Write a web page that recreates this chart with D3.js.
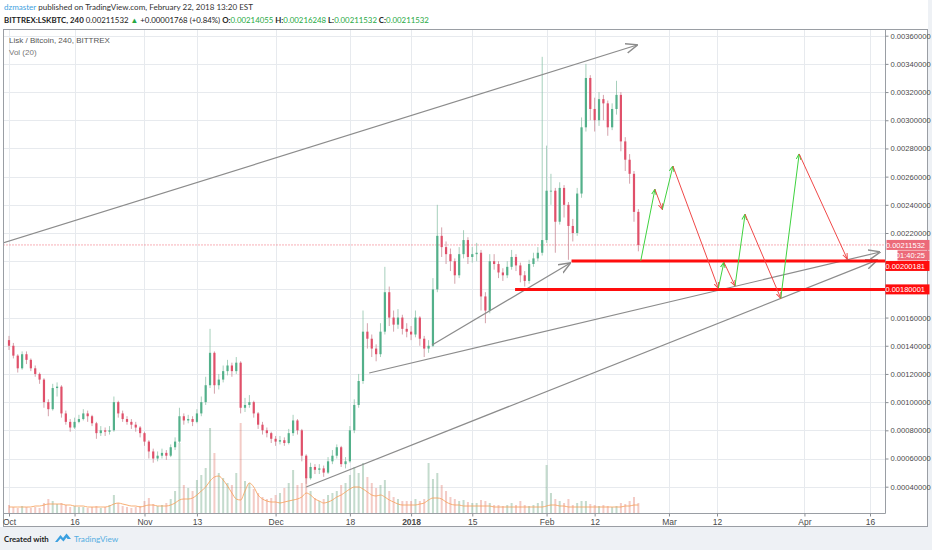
<!DOCTYPE html>
<html>
<head>
<meta charset="utf-8">
<script src="https://cdn.jsdelivr.net/npm/d3@7"></script>
<style>
  body { margin: 0; background: #eef1f5; }
  svg { display: block; font-family: "Liberation Sans", Arial, sans-serif; }
</style>
</head>
<body>
<svg width="932" height="550"></svg>
<script>
// daily candles LSK/BTC from 2017-10-01, prices in 1e-5 BTC
const firstDay = '2017-10-01T00:00Z';
const firstOpenE5 = 144;
const closeE5 = [140,133,124,134,130,124,120,116,100,95, 110,111,92,86,82,86,88,92,90,85,
  78,80,79,80,100,92,88,86,84,82, 78,72,65,60,62,64,62,68,72,90,
  87,88,86,92,100,112,135,112,116,122, 126,122,128,96,98,100,92,84,80,78,
  74,72,73,71,78,87,80,62,46,54, 52,53,50,58,62,68,56,58,80,98,
  115,150,145,138,134,150,178,160,155,160, 152,150,148,160,145,138,140,180,218,210,
  205,200,190,205,215,203,205,206,175,165, 200,198,192,190,196,203,197,190,186,198,
  202,206,215,250,250,228,252,240,225,220, 248,295,330,308,300,315,312,295,308,318,
  285,272,262,235,211.532];
const highE5 = [147,142,134,136,136,131,126,121,117,102, 113,114,112,94,88,89,91,95,94,91,
  86,83,82,83,104,101,94,90,88,86, 83,79,73,67,65,67,66,70,75,96,
  92,91,90,95,104,118,152,136,120,126, 130,128,132,129,103,105,101,93,86,82,
  79,76,76,75,81,91,88,81,63,57, 56,56,55,61,66,70,69,61,83,102,
  120,165,156,148,141,156,196,182,165,166, 162,156,154,165,161,147,144,188,240,224,
  214,209,202,210,222,217,210,213,208,178, 205,205,200,195,200,208,205,199,193,201,
  206,210,345,282,262,252,256,254,242,230, 252,302,340,332,316,320,318,314,312,328,
  320,288,276,264,237];
const lowE5 = [137,131,121,123,127,122,118,113,96,90, 94,104,89,84,79,81,85,87,86,83,
  74,76,76,77,79,89,86,84,81,79, 75,69,60,57,58,60,59,61,66,71,
  84,85,83,85,90,98,110,106,109,114, 119,118,120,92,93,96,89,81,77,75,
  71,69,70,69,70,76,77,58,42,45, 49,49,47,49,56,60,54,53,57,78,
  96,113,138,132,129,132,148,154,150,152, 148,146,144,146,140,132,135,139,178,203,
  198,193,184,188,202,198,199,200,165,156, 163,194,188,186,188,194,193,185,182,184,
  196,200,204,213,240,206,226,231,201,214, 218,245,292,300,292,296,300,289,293,304,
  278,264,255,228,207];
// volume and its 20-bar average, in volume-pane units
const volume = [8,6,5,7,6,5,6,5,10,14, 12,9,10,8,6,7,6,6,5,6,
  7,5,6,8,18,10,7,6,5,6, 7,12,15,9,7,8,10,14,22,70,
  28,25,22,33,38,45,85,60,40,35, 30,28,40,90,32,30,24,20,16,14,
  15,18,20,25,30,43,28,30,36,22, 15,12,14,18,20,22,28,30,38,46,
  40,50,36,30,25,28,33,22,16,14, 12,12,12,14,12,14,50,34,40,28,
  22,16,14,12,13,11,10,10,13,12, 10,8,8,7,8,10,8,12,8,7,
  8,10,12,48,20,14,12,10,14,8, 10,12,12,9,8,7,8,7,6,7,
  10,9,12,16,10];
const volumeMA = [6,6,6,6,6,6,7,7,8,9, 9,9,9,8,8,7,7,7,6,6,
  6,6,6,7,9,10,9,8,7,7, 6,7,8,8,7,7,7,8,10,13,
  14,14,15,18,22,26,32,36,37,33, 27,20,14,13,22,30,26,18,14,12,
  11,11,10,11,12,13,14,16,20,18, 14,12,10,11,13,16,18,21,24,26,
  26,24,21,18,17,18,16,13,11,9, 8,8,8,8,9,10,13,15,15,14,
  11,9,8,8,7,7,7,7,7,7, 7,6,6,6,6,6,6,6,6,6,
  6,6,6,7,8,8,7,7,6,6, 6,6,6,6,6,6,6,6,6,6,
  6,7,7,8,8];

const priceTicks = [0.0004,0.0006,0.0008,0.0010,0.0012,0.0014,0.0016,0.0018,0.0020,
  0.0022,0.0024,0.0026,0.0028,0.0030,0.0032,0.0034,0.0036];
const shownPriceTicks = priceTicks.filter(p => p !== 0.0018 && p !== 0.0020); // hidden under badges
const dateTicks = ['2017-10-01','2017-10-16','2017-11-01','2017-11-13','2017-12-01','2017-12-18',
  '2018-01-01','2018-01-15','2018-02-01','2018-02-12','2018-03-01','2018-03-12','2018-04-01','2018-04-16'];
const dateLabels = ['Oct','16','Nov','13','Dec','18','2018','15','Feb','12','Mar','12','Apr','16'];

// drawings (date, price in 1e-5 BTC)
const trendLines = [
  [['2017-09-25T00:00Z', 208.4], ['2018-02-21T17:00Z', 353.4]],
  [['2017-12-22T10:00Z', 120.7], ['2018-04-18T07:00Z', 206.5]],
  [['2017-12-08T00:00Z', 39.8], ['2018-04-17T15:00Z', 200.8]],
  [['2018-01-05T19:00Z', 140.5], ['2018-02-06T10:00Z', 198.7]]
];
const levels = [['2018-02-06T17:00Z', 200.181], ['2018-01-24T19:00Z', 180.001]];
const zigzag = [
  ['2018-02-22T13:00Z', 200.2], ['2018-02-25T19:00Z', 251.0], ['2018-02-27T12:00Z', 236.8],
  ['2018-03-01T22:00Z', 267.5], ['2018-03-12T07:00Z', 180.8], ['2018-03-13T14:00Z', 199.2],
  ['2018-03-16T03:00Z', 182.6], ['2018-03-18T10:00Z', 233.3], ['2018-03-26T14:00Z', 173.7],
  ['2018-03-30T19:00Z', 276.1], ['2018-04-10T19:00Z', 201.6]
];

const svg = d3.select('svg');
const plot = { left: 3.5, top: 29.5, right: 885.5, bottom: 513.5 };
const outerRight = 927.5, outerBottom = 526.5;

const x = d3.scaleUtc()
  .domain([new Date('2017-10-01T00:00Z'), new Date('2018-04-16T00:00Z')])
  .range([9, 870]);
const y = d3.scaleLinear().domain([0.0004, 0.0036]).range([486.7, 35.7]);
const yVol = d3.scaleLinear().domain([0, 100]).range([513, 413]);

const day0 = new Date(firstDay);
const candles = closeE5.map((c, i) => ({
  date: d3.utcDay.offset(day0, i),
  open: (i ? closeE5[i - 1] : firstOpenE5) / 1e5,
  high: highE5[i] / 1e5,
  low: lowE5[i] / 1e5,
  close: c / 1e5,
  vol: volume[i],
  ma: volumeMA[i]
}));
const pt = p => [x(new Date(p[0])), y(p[1] / 1e5)];

// background
svg.append('rect').attr('width', 928).attr('height', 527).attr('fill', '#fff');

const defs = svg.append('defs');
defs.append('clipPath').attr('id', 'clip')
  .append('rect').attr('x', 4).attr('y', 30).attr('width', 881).attr('height', 483);
function marker(id, color, size, sw) {
  defs.append('marker').attr('id', id)
    .attr('viewBox', '0 0 10 10').attr('refX', 9.5).attr('refY', 5)
    .attr('markerWidth', size).attr('markerHeight', size)
    .attr('markerUnits', 'userSpaceOnUse').attr('orient', 'auto')
    .append('path').attr('d', 'M0,1 L10,5 L0,9')
    .attr('fill', 'none').attr('stroke', color).attr('stroke-width', sw);
}
marker('arrGray', '#8c8c8c', 12, 1.2);
marker('arrGreen', '#3fd23f', 6, 1.6);
marker('arrRed', '#f04848', 6, 1.6);

// grid
const grid = svg.append('g').attr('stroke', '#e7eaee').attr('stroke-width', 1);
grid.selectAll('.vg').data(dateTicks).enter().append('line')
  .attr('x1', d => Math.round(x(new Date(d + 'T00:00Z'))) + 0.5)
  .attr('x2', d => Math.round(x(new Date(d + 'T00:00Z'))) + 0.5)
  .attr('y1', plot.top).attr('y2', plot.bottom);
grid.selectAll('.hg').data(priceTicks).enter().append('line')
  .attr('x1', plot.left).attr('x2', plot.right)
  .attr('y1', d => Math.round(y(d)) + 0.5).attr('y2', d => Math.round(y(d)) + 0.5);

const g = svg.append('g').attr('clip-path', 'url(#clip)');

// volume
g.selectAll('.vol').data(candles).enter().append('rect')
  .attr('x', d => x(d.date) - 1).attr('width', 2)
  .attr('y', d => yVol(d.vol)).attr('height', d => 513 - yVol(d.vol))
  .attr('fill', d => d.close >= d.open ? 'rgba(107,165,131,0.4)' : 'rgba(215,84,66,0.3)');
g.append('path').datum(candles)
  .attr('fill', 'none').attr('stroke', '#f7a15c').attr('stroke-width', 1).attr('opacity', 0.85)
  .attr('d', d3.line().x(d => x(d.date)).y(d => yVol(d.ma)).curve(d3.curveMonotoneX));

// current price dotted line
const last = candles[candles.length - 1].close;
g.append('line').attr('x1', plot.left).attr('x2', plot.right)
  .attr('y1', y(last)).attr('y2', y(last))
  .attr('stroke', '#ef5f6c').attr('stroke-dasharray', '1,2').attr('stroke-width', 1);

// candles
g.selectAll('.wick').data(candles).enter().append('line')
  .attr('x1', d => x(d.date)).attr('x2', d => x(d.date))
  .attr('y1', d => y(d.high)).attr('y2', d => y(d.low))
  .attr('stroke', d => d.close >= d.open ? '#8fc4ab' : '#c98a96').attr('stroke-width', 0.8);
g.selectAll('.body').data(candles).enter().append('rect')
  .attr('x', d => x(d.date) - 1.1).attr('width', 2.2)
  .attr('y', d => y(Math.max(d.open, d.close)))
  .attr('height', d => Math.max(0.8, Math.abs(y(d.open) - y(d.close))))
  .attr('fill', d => d.close >= d.open ? '#53b08a' : '#e0506a');

// trend lines
g.selectAll('.trend').data(trendLines).enter().append('line')
  .attr('x1', d => pt(d[0])[0]).attr('y1', d => pt(d[0])[1])
  .attr('x2', d => pt(d[1])[0]).attr('y2', d => pt(d[1])[1])
  .attr('stroke', '#8c8c8c').attr('stroke-width', 1.2)
  .attr('marker-end', 'url(#arrGray)');

// red levels
g.selectAll('.level').data(levels).enter().append('line')
  .attr('x1', d => pt(d)[0]).attr('x2', plot.right)
  .attr('y1', d => pt(d)[1]).attr('y2', d => pt(d)[1])
  .attr('stroke', '#ff0d0d').attr('stroke-width', 3);

// projected zigzag
g.selectAll('.zig').data(d3.pairs(zigzag)).enter().append('line')
  .attr('x1', d => pt(d[0])[0]).attr('y1', d => pt(d[0])[1])
  .attr('x2', d => pt(d[1])[0]).attr('y2', d => pt(d[1])[1])
  .attr('stroke', d => d[1][1] > d[0][1] ? '#3fd23f' : '#f04848')
  .attr('stroke-width', 1)
  .attr('marker-end', d => d[1][1] > d[0][1] ? 'url(#arrGreen)' : 'url(#arrRed)');

// frames
const frame = svg.append('g').attr('fill', 'none').attr('stroke', '#9a9ea4').attr('stroke-width', 1);
frame.append('rect').attr('x', plot.left).attr('y', plot.top)
  .attr('width', outerRight - plot.left).attr('height', outerBottom - plot.top);
frame.append('line').attr('x1', plot.right).attr('x2', plot.right).attr('y1', plot.top).attr('y2', plot.bottom);
frame.append('line').attr('x1', plot.left).attr('x2', plot.right).attr('y1', plot.bottom).attr('y2', plot.bottom);

// price axis
const yAxis = svg.append('g').attr('transform', `translate(${plot.right},0)`)
  .call(d3.axisRight(y).tickValues(shownPriceTicks).tickSize(3).tickPadding(2).tickFormat(d => d.toFixed(8)));
yAxis.select('.domain').remove();
yAxis.selectAll('line').attr('stroke', '#8a8e94');
yAxis.selectAll('text').attr('font-size', 7.6).attr('fill', '#4a4a4a').attr('font-family', '"Liberation Sans", Arial, sans-serif');

// time axis
const xAxis = svg.append('g').attr('transform', `translate(0,${plot.bottom})`)
  .call(d3.axisBottom(x).tickValues(dateTicks.map(d => new Date(d + 'T00:00Z')))
    .tickSize(3).tickPadding(2).tickFormat((d, i) => dateLabels[i]));
xAxis.select('.domain').remove();
xAxis.selectAll('line').attr('stroke', '#8a8e94');
xAxis.selectAll('text').attr('font-size', 8.5).attr('fill', '#4a4a4a')
  .attr('font-family', '"Liberation Sans", Arial, sans-serif')
  .attr('font-weight', (d, i) => dateLabels[i] === '2018' ? 'bold' : 'normal');

// price badges: last price with countdown, then the two levels
const lastY = y(last);
const cdY = lastY + 10.5;
const h1Y = Math.max(y(levels[0][1] / 1e5), cdY + 10.5);
const badges = [
  { y: lastY, x: plot.right + 1, text: last.toFixed(8), fill: '#ec6a79' },
  { y: cdY, x: plot.right + 12, text: '01:40:25', fill: '#ec6a79' },
  { y: h1Y, x: plot.right, text: (levels[0][1] / 1e5).toFixed(8), fill: '#ff0d0d' },
  { y: y(levels[1][1] / 1e5), x: plot.right, text: (levels[1][1] / 1e5).toFixed(8), fill: '#ff0d0d' }
];
const bd = svg.append('g').selectAll('g').data(badges).enter().append('g');
bd.append('rect').attr('x', d => d.x).attr('y', d => d.y - 5)
  .attr('width', d => outerRight + 2 - d.x).attr('height', 10).attr('fill', d => d.fill);
bd.append('text').attr('x', 925).attr('y', d => d.y + 2.7).attr('text-anchor', 'end')
  .attr('font-size', 7.5).attr('fill', '#fff').text(d => d.text);

// header
const hdr = svg.append('g').attr('font-family', 'Lato, "Liberation Sans", sans-serif').attr('fill', '#333');
const l1 = hdr.append('text').attr('x', 4).attr('y', 10).attr('font-size', 8.05);
l1.append('tspan').attr('fill', '#3fa2e0').text('dzmaster');
l1.append('tspan').text(' published on TradingView.com, February 22, 2018 13:20 EST');
const l2 = hdr.append('text').attr('x', 4).attr('y', 22.5).attr('font-size', 7.85).attr('fill', '#222');
l2.append('tspan').attr('font-weight', 'bold').text('BITTREX:LSKBTC, 240');
l2.append('tspan').text(' 0.00211532 ');
l2.append('tspan').attr('fill', '#26a843').text('▲');
l2.append('tspan').text(' +0.00001768 (+0.84%) ');
[['O:', '0.00214055'], ['H:', '0.00216248'], ['L:', '0.00211532'], ['C:', '0.00211532']].forEach((p, i) => {
  l2.append('tspan').attr('font-weight', 'bold').text((i ? ' ' : '') + p[0]);
  l2.append('tspan').attr('fill', '#26a843').text(p[1]);
});
svg.append('text').attr('x', 9).attr('y', 43).attr('font-size', 8).attr('fill', '#555')
  .text('Lisk / Bitcoin, 240, BITTREX');
svg.append('text').attr('x', 9).attr('y', 55).attr('font-size', 8).attr('fill', '#777')
  .text('Vol (20)');

// footer
const ft = svg.append('g').attr('font-family', 'Lato, "Liberation Sans", sans-serif');
ft.append('text').attr('x', 4).attr('y', 541.5).attr('font-size', 7.8).attr('font-weight', 'bold')
  .attr('fill', '#222').text('Created with');
ft.append('path')
  .attr('d', 'M55,542 L60.5,535 L63,538 L66.5,533.5 L71,539 L67.5,539 L66.5,537.5 L63.5,541.5 L60.5,538.5 L57.5,542 Z')
  .attr('fill', '#3ba0e0');
ft.append('text').attr('x', 74).attr('y', 541.5).attr('font-size', 8.2).attr('fill', '#55aee2')
  .text('TradingView');
</script>
</body>
</html>
